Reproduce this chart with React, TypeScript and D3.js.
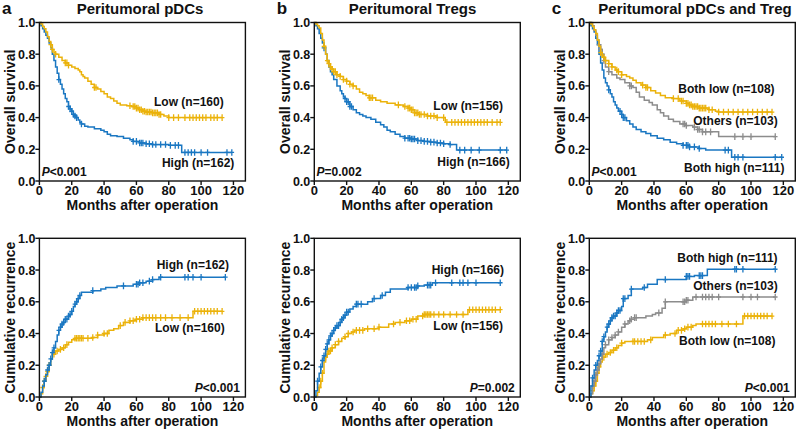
import React from 'react';
import * as d3 from 'd3';

// colours of the groups
const YELLOW = '#EBB20A';
const BLUE = '#1A77C2';
const GREY = '#8C8C8C';

const MONTH_TICKS = [0, 20, 40, 60, 80, 100, 120];
const VALUE_TICKS = [0, 0.2, 0.4, 0.6, 0.8, 1.0];

// ---- a: peritumoral pDCs ----
const osA_low = [[0,1],[1,0.99],[2,0.975],[3,0.96],[4,0.94],[5,0.91],[6,0.88],[7,0.86],[8,0.83],[9,0.81],[10,0.8],[12,0.78],[14,0.76],[16,0.745],[18,0.73],[20,0.72],[22,0.71],[24,0.7],[25,0.69],[26,0.67],[27,0.66],[28,0.65],[30,0.63],[32,0.61],[34,0.59],[36,0.58],[38,0.565],[40,0.55],[42,0.53],[44,0.52],[46,0.505],[48,0.49],[50,0.48],[54,0.475],[57,0.47],[60,0.46],[62,0.45],[64,0.44],[66,0.435],[70,0.43],[74,0.42],[77,0.41],[80,0.4]];
const osA_lowCens = [7,8,10,16,17,18,34,35,56,58,59,60,61,62,63,64,65,66,67,68,69,70,71,72,73,74,75,80,83,86,90,93,95,97,99,101,103,106,108,110,113];
const osA_high = [[0,1],[1,0.98],[2,0.96],[3,0.94],[4,0.92],[5,0.9],[6,0.87],[7,0.84],[8,0.8],[9,0.76],[10,0.72],[11,0.68],[12,0.64],[13,0.61],[14,0.58],[15,0.55],[16,0.52],[17,0.5],[18,0.47],[19,0.455],[20,0.44],[21,0.42],[22,0.41],[23,0.4],[24,0.385],[25,0.37],[26,0.36],[28,0.345],[30,0.34],[34,0.33],[38,0.32],[40,0.31],[42,0.295],[44,0.285],[48,0.28],[52,0.27],[56,0.26],[58,0.25],[62,0.24],[66,0.235],[70,0.23],[80,0.225],[88,0.18]];
const osA_highCens = [12,18,19,20,21,22,23,26,58,60,62,63,64,66,68,70,72,75,78,81,84,86,90,92,94,96,100,104,116,119];
const rfsA_high = [[0,0],[1,0.03],[2,0.07],[3,0.1],[4,0.14],[5,0.17],[6,0.2],[7,0.24],[8,0.28],[9,0.31],[10,0.35],[11,0.39],[12,0.42],[13,0.44],[14,0.46],[15,0.47],[16,0.49],[18,0.51],[19,0.52],[20,0.54],[21,0.57],[22,0.585],[23,0.6],[24,0.62],[25,0.64],[26,0.66],[33,0.67],[38,0.68],[41,0.69],[48,0.7],[58,0.71],[62,0.72],[66,0.73],[70,0.74],[74,0.755]];
const rfsA_highCens = [3,5,6,7,8,9,12,13,14,15,16,17,18,19,20,22,23,24,25,33,52,60,61,62,64,68,70,75,90,92,95,100,115];
const rfsA_low = [[0,0],[1,0.02],[2,0.06],[3,0.1],[4,0.13],[5,0.16],[6,0.2],[7,0.24],[8,0.27],[10,0.29],[12,0.3],[14,0.31],[16,0.33],[18,0.345],[20,0.36],[22,0.37],[33,0.375],[36,0.39],[40,0.4],[43,0.42],[46,0.43],[49,0.45],[52,0.47],[56,0.48],[60,0.49],[64,0.5],[95,0.54]];
const rfsA_lowCens = [2,3,4,5,6,9,11,13,15,17,22,23,24,25,26,27,30,33,36,40,42,50,53,56,58,60,62,64,66,68,70,72,75,78,82,87,92,96,98,100,102,104,106,108,110,113];

// ---- b: peritumoral Tregs ----
const osB_low = [[0,1],[1,0.99],[2,0.98],[3,0.965],[4,0.93],[5,0.89],[6,0.85],[7,0.8],[8,0.76],[9,0.74],[10,0.72],[11,0.705],[12,0.69],[14,0.67],[16,0.66],[18,0.64],[20,0.63],[22,0.61],[24,0.6],[26,0.58],[28,0.56],[30,0.55],[32,0.54],[34,0.525],[38,0.51],[41,0.5],[45,0.49],[50,0.48],[55,0.47],[58,0.46],[60,0.45],[62,0.43],[65,0.42],[70,0.41],[76,0.4],[81,0.37]];
const osB_lowCens = [6,8,9,10,11,12,13,14,16,18,20,22,24,34,35,36,52,56,58,59,60,61,62,63,64,65,66,68,70,72,74,76,80,82,85,87,89,91,93,95,97,99,101,103,105,107,110,113,115];
const osB_high = [[0,1],[1,0.98],[2,0.96],[3,0.93],[4,0.9],[5,0.87],[6,0.84],[7,0.8],[8,0.76],[9,0.72],[10,0.69],[11,0.67],[12,0.64],[14,0.6],[16,0.57],[17,0.55],[18,0.53],[19,0.52],[20,0.5],[22,0.47],[24,0.45],[26,0.43],[28,0.42],[30,0.41],[32,0.4],[35,0.39],[38,0.37],[41,0.355],[43,0.34],[45,0.32],[47,0.31],[50,0.295],[53,0.28],[56,0.27],[60,0.265],[64,0.255],[68,0.25],[72,0.245],[76,0.24],[80,0.235],[84,0.23],[88,0.195]];
const osB_highCens = [6,19,20,21,22,23,56,58,59,60,61,62,64,66,68,70,72,74,76,78,80,84,90,93,97,102,115,119];
const rfsB_high = [[0,0],[1,0.04],[2,0.1],[3,0.15],[4,0.19],[5,0.23],[6,0.26],[7,0.3],[8,0.335],[9,0.36],[10,0.385],[11,0.4],[12,0.42],[13,0.435],[14,0.45],[16,0.47],[17,0.49],[18,0.5],[19,0.515],[20,0.535],[22,0.555],[24,0.57],[26,0.585],[33,0.6],[36,0.62],[41,0.64],[44,0.66],[47,0.68],[58,0.69],[64,0.7],[68,0.705],[73,0.72]];
const rfsB_highCens = [2,4,5,6,7,8,9,10,11,12,13,14,15,16,17,18,19,20,21,26,27,29,37,42,58,60,62,63,64,70,71,72,75,85,90,92,95,100,115];
const rfsB_low = [[0,0],[1,0.01],[2,0.03],[3,0.06],[4,0.1],[5,0.15],[6,0.22],[7,0.25],[8,0.27],[9,0.29],[11,0.31],[13,0.33],[15,0.35],[17,0.37],[19,0.38],[21,0.4],[23,0.41],[25,0.42],[31,0.43],[40,0.44],[46,0.46],[50,0.47],[56,0.48],[60,0.49],[64,0.51],[68,0.52],[95,0.55]];
const rfsB_lowCens = [3,4,5,7,8,9,10,11,13,15,19,21,24,26,28,30,33,37,40,49,53,57,59,61,63,67,68,69,70,71,72,74,77,80,84,88,92,96,98,100,102,104,106,108,110,112,115];

// ---- c: peritumoral pDCs and Treg ----
const osC_low = [[0,1],[1,0.99],[2,0.975],[3,0.955],[4,0.93],[5,0.89],[6,0.85],[7,0.81],[8,0.78],[10,0.76],[12,0.74],[14,0.72],[16,0.7],[18,0.69],[20,0.67],[23,0.66],[25,0.65],[27,0.635],[29,0.62],[32,0.605],[35,0.59],[38,0.57],[41,0.555],[44,0.54],[47,0.525],[52,0.52],[56,0.505],[60,0.49],[62,0.48],[64,0.47],[68,0.46],[74,0.45],[78,0.44],[80,0.435]];
const osC_lowCens = [7,9,10,12,14,17,18,20,33,35,36,52,55,57,58,60,61,62,63,64,65,66,67,68,69,70,71,72,74,76,80,83,86,89,92,95,98,101,104,107,110,113];
const osC_others = [[0,1],[2,0.98],[3,0.95],[4,0.92],[5,0.89],[6,0.86],[7,0.83],[8,0.8],[9,0.76],[10,0.72],[12,0.69],[14,0.67],[17,0.65],[19,0.64],[22,0.62],[25,0.6],[27,0.59],[29,0.56],[31,0.53],[34,0.51],[37,0.495],[39,0.48],[42,0.45],[44,0.43],[46,0.41],[49,0.39],[52,0.375],[56,0.36],[60,0.35],[64,0.34],[67,0.325],[70,0.31],[80,0.28]];
const osC_othersCens = [6,7,8,9,12,25,26,58,59,60,65,67,68,70,72,75,90,95,100,115];
const osC_high = [[0,1],[1,0.98],[2,0.96],[3,0.94],[4,0.9],[5,0.86],[6,0.8],[7,0.745],[8,0.7],[9,0.65],[10,0.62],[11,0.6],[12,0.575],[13,0.55],[14,0.53],[15,0.5],[16,0.48],[17,0.46],[18,0.44],[20,0.42],[21,0.4],[23,0.38],[25,0.36],[27,0.34],[29,0.325],[32,0.31],[35,0.3],[38,0.285],[42,0.27],[46,0.26],[50,0.245],[54,0.235],[58,0.225],[62,0.215],[68,0.205],[72,0.195],[88,0.15]];
const osC_highCens = [12,19,20,21,22,58,60,61,62,65,68,84,86,90,92,95,115,119];
const rfsC_high = [[0,0],[1,0.07],[2,0.12],[3,0.17],[4,0.2],[5,0.23],[6,0.26],[7,0.29],[8,0.35],[9,0.38],[10,0.41],[11,0.44],[12,0.46],[13,0.48],[14,0.5],[15,0.51],[17,0.53],[18,0.545],[20,0.57],[21,0.62],[24,0.64],[26,0.68],[33,0.69],[36,0.71],[42,0.74],[60,0.76],[65,0.765],[73,0.805]];
const rfsC_highCens = [2,4,6,7,8,9,11,12,13,14,15,16,17,18,19,21,22,26,34,47,60,61,62,68,69,70,90,91,95,115];
const rfsC_others = [[0,0],[1,0.02],[2,0.07],[3,0.1],[4,0.14],[5,0.17],[6,0.21],[7,0.24],[8,0.27],[9,0.31],[10,0.33],[12,0.36],[14,0.375],[16,0.39],[18,0.41],[20,0.44],[22,0.46],[24,0.48],[26,0.49],[28,0.5],[35,0.51],[39,0.52],[41,0.53],[45,0.56],[47,0.6],[60,0.61],[64,0.63]];
const rfsC_othersCens = [2,3,4,5,6,8,10,12,14,16,18,22,25,26,28,29,43,47,58,59,60,61,66,70,72,74,76,80,95,100,104,115];
const rfsC_low = [[0,0],[1,0.02],[2,0.04],[3,0.07],[4,0.1],[5,0.15],[6,0.19],[7,0.22],[8,0.25],[10,0.27],[12,0.28],[14,0.295],[16,0.31],[18,0.325],[20,0.34],[22,0.35],[36,0.36],[39,0.375],[46,0.39],[50,0.4],[54,0.42],[58,0.43],[60,0.44],[64,0.45],[66,0.46],[95,0.51]];
const rfsC_lowCens = [2,3,4,5,6,9,11,13,15,17,20,27,28,30,32,34,38,47,53,55,57,59,61,63,70,72,74,76,78,82,86,91,96,98,100,102,104,106,108,110,113];

const COL_X = [39.4, 314.3, 589.3];
const ROW_Y = [[22.5, 181], [238.3, 397]];
const PLOT_W = 206;
const X_MAX = 127.4;
const FONT = '"Liberation Sans", Arial, Helvetica, sans-serif';

const headers = [
  { letter: 'a', title: 'Peritumoral pDCs', cx: 140 },
  { letter: 'b', title: 'Peritumoral Tregs', cx: 412.5 },
  { letter: 'c', title: 'Peritumoral pDCs and Treg', cx: 695 },
];

const panels = [
  { col: 0, row: 0, yLabel: 'Overall survival', p: ['<', '0.001'], pRight: false, series: [
    { steps: osA_high, cens: osA_highCens, color: BLUE, label: 'High (n=162)', at: [75.8, 0.09] },
    { steps: osA_low, cens: osA_lowCens, color: YELLOW, label: 'Low (n=160)', at: [70.9, 0.473] },
  ]},
  { col: 0, row: 1, yLabel: 'Cumulative recurrence', p: ['<', '0.001'], pRight: true, series: [
    { steps: rfsA_low, cens: rfsA_lowCens, color: YELLOW, label: 'Low (n=160)', at: [71.5, 0.409] },
    { steps: rfsA_high, cens: rfsA_highCens, color: BLUE, label: 'High (n=162)', at: [72.5, 0.804] },
  ]},
  { col: 1, row: 0, yLabel: 'Overall survival', p: ['=', '0.002'], pRight: false, series: [
    { steps: osB_high, cens: osB_highCens, color: BLUE, label: 'High (n=166)', at: [76.1, 0.097] },
    { steps: osB_low, cens: osB_lowCens, color: YELLOW, label: 'Low (n=156)', at: [73.6, 0.448] },
  ]},
  { col: 1, row: 1, yLabel: 'Cumulative recurrence', p: ['=', '0.002'], pRight: true, series: [
    { steps: rfsB_low, cens: rfsB_lowCens, color: YELLOW, label: 'Low (n=156)', at: [73.6, 0.425] },
    { steps: rfsB_high, cens: rfsB_highCens, color: BLUE, label: 'High (n=166)', at: [72.6, 0.773] },
  ]},
  { col: 2, row: 0, yLabel: 'Overall survival', p: ['<', '0.001'], pRight: false, series: [
    { steps: osC_high, cens: osC_highCens, color: BLUE, label: 'Both high (n=111)', at: [58.6, 0.059] },
    { steps: osC_others, cens: osC_othersCens, color: GREY, label: 'Others (n=103)', at: [64.3, 0.353] },
    { steps: osC_low, cens: osC_lowCens, color: YELLOW, label: 'Both low (n=108)', at: [55, 0.553] },
  ]},
  { col: 2, row: 1, yLabel: 'Cumulative recurrence', p: ['<', '0.001'], pRight: true, series: [
    { steps: rfsC_low, cens: rfsC_lowCens, color: YELLOW, label: 'Both low (n=108)', at: [55.5, 0.325] },
    { steps: rfsC_others, cens: rfsC_othersCens, color: GREY, label: 'Others (n=103)', at: [64.3, 0.674] },
    { steps: rfsC_high, cens: rfsC_highCens, color: BLUE, label: 'Both high (n=111)', at: [54.4, 0.852] },
  ]},
];

function valueAt(steps, t) {
  let v = steps[0][1];
  for (const s of steps) { if (s[0] <= t) v = s[1]; else break; }
  return v;
}

const Panel = ({ cfg }) => {
  const x0 = COL_X[cfg.col];
  const [top, bottom] = ROW_Y[cfg.row];
  const x = d3.scaleLinear().domain([0, X_MAX]).range([x0, x0 + PLOT_W]);
  const y = d3.scaleLinear().domain([0, 1]).range([bottom, top]);
  const line = d3.line().x(d => x(d[0])).y(d => y(d[1])).curve(d3.curveStepAfter);
  const fmt = d3.format('.1f');

  return (
    <g>
      {cfg.series.map((s, i) => {
        const end = d3.max(s.cens);
        const pts = [...s.steps, [end, s.steps[s.steps.length - 1][1]]];
        return (
          <g key={i}>
            <path d={line(pts)} fill="none" stroke={s.color} strokeWidth={1.5} />
            {s.cens.map((t, j) => {
              const cx = x(t), cy = y(valueAt(s.steps, t));
              return (
                <path key={j} d={`M${cx},${cy - 3.3}V${cy + 3.3}M${cx - 2.3},${cy}H${cx + 2.3}`}
                  stroke={s.color} strokeWidth={1.3} />
              );
            })}
          </g>
        );
      })}
      <rect x={x0} y={top} width={PLOT_W} height={bottom - top} fill="none" stroke="#111" strokeWidth={1.4} />
      {MONTH_TICKS.map(t => (
        <g key={t}>
          <line x1={x(t)} x2={x(t)} y1={bottom} y2={bottom + 4} stroke="#111" strokeWidth={1.4} />
          <text x={x(t)} y={bottom + 14} textAnchor="middle" fontSize={13} fontWeight="bold">{t}</text>
        </g>
      ))}
      {VALUE_TICKS.map(v => (
        <g key={v}>
          <line x1={x0 - 4} x2={x0} y1={y(v)} y2={y(v)} stroke="#111" strokeWidth={1.4} />
          <text x={x0 - 4} y={y(v) + 4.5} textAnchor="end" fontSize={12.5} fontWeight="bold">{fmt(v)}</text>
        </g>
      ))}
      <text x={x0 + 103} y={bottom + 29} textAnchor="middle" fontSize={14} fontWeight="bold">Months after operation</text>
      <text transform={`translate(${x0 - 24.5},${(top + bottom) / 2}) rotate(-90)`} textAnchor="middle" fontSize={14} fontWeight="bold">{cfg.yLabel}</text>
      {cfg.series.map((s, i) => (
        <text key={i} x={x(s.at[0])} y={y(s.at[1])} fontSize={12} fontWeight="bold">{s.label}</text>
      ))}
      <text x={cfg.pRight ? x(124) : x(1.4)} y={y(0.033)} textAnchor={cfg.pRight ? 'end' : 'start'} fontSize={12} fontWeight="bold">
        <tspan fontStyle="italic">P</tspan>{cfg.p[0] + cfg.p[1]}
      </text>
    </g>
  );
};

export default function App() {
  return (
    <svg width={796} height={432} style={{ position: 'absolute', left: 0, top: 0, background: '#fff' }}
      fontFamily={FONT} fill="#111">
      {headers.map((h, i) => (
        <g key={i}>
          <text x={COL_X[i] - 37.5} y={14} fontSize={17} fontWeight="bold">{h.letter}</text>
          <text x={h.cx} y={14} textAnchor="middle" fontSize={15} fontWeight="bold">{h.title}</text>
        </g>
      ))}
      {panels.map((p, i) => <Panel key={i} cfg={p} />)}
    </svg>
  );
}
